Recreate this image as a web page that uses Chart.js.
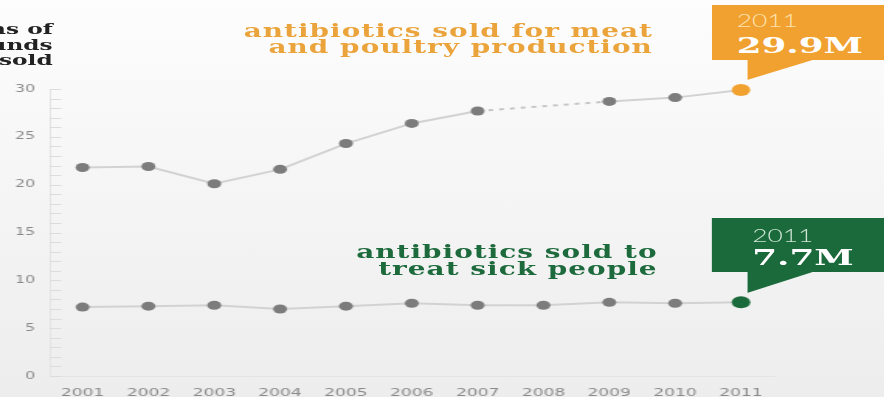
<!DOCTYPE html>
<html><head><meta charset="utf-8">
<script src="https://cdn.jsdelivr.net/npm/chart.js@4"></script>
<style>
html,body{margin:0;padding:0;}
body{width:884px;height:397px;overflow:hidden;position:relative;background:linear-gradient(to bottom,#fdfdfd 0%,#f4f4f4 55%,#ededed 100%);}
#wrap{position:absolute;left:0;top:0;width:570px;height:397px;transform:scaleX(1.5509);transform-origin:0 0;}
#cw{position:absolute;left:0;top:0;width:570px;height:397px;}
.t{position:absolute;white-space:nowrap;}
#ytitle{right:536px;top:22px;text-align:right;font:bold 15px/15.5px 'DejaVu Serif',serif;color:#222;}
#meatLbl{right:149px;top:23px;text-align:right;font:bold 18px/16px 'DejaVu Serif',serif;letter-spacing:0.65px;color:#eba43c;}
#humLbl{right:146px;top:243px;text-align:right;font:bold 18px/17px 'DejaVu Serif',serif;letter-spacing:0.65px;color:#1d6a3c;}
.box{position:absolute;left:459px;width:111px;}
.tri{position:absolute;left:481.7px;width:42.3px;clip-path:polygon(0 0,100% 0,0 100%);}
.yr{font:300 17px/17px Lato,sans-serif;}
.big{font:bold 23px/23px 'DejaVu Serif',serif;color:#fff;}
</style></head>
<body>
<div id="wrap">
  <div id="cw"><canvas id="c"></canvas></div>
  <div class="t" id="ytitle">Millions of<br>pounds<br>sold</div>
  <div class="t" id="meatLbl">antibiotics sold for meat<br>and poultry production</div>
  <div class="t" id="humLbl">antibiotics sold to<br>treat sick people</div>
  <div class="box" style="top:5px;height:55px;background:#f1a12f"></div>
  <div class="tri" style="top:60px;height:20px;background:#f1a12f"></div>
  <div class="t yr" style="left:475px;top:12px;color:#fde2b0">2011</div>
  <div class="t big" style="left:475px;top:32.6px">29.9M</div>
  <div class="box" style="top:218px;height:54px;background:#1b6a3b"></div>
  <div class="tri" style="top:272px;height:21px;background:#1b6a3b"></div>
  <div class="t yr" style="left:485px;top:227px;color:#cfe5d6">2011</div>
  <div class="t big" style="left:485px;top:244.6px">7.7M</div>
</div>
<script>
const years = ['2001','2002','2003','2004','2005','2006','2007','2008','2009','2010','2011'];
const meatPoultry = [21.8, 21.9, 20.1, 21.6, 24.3, 26.4, 27.7, null, 28.7, 29.1, 29.9];
const sickPeople = [7.2, 7.3, 7.4, 7.0, 7.3, 7.6, 7.4, 7.4, 7.7, 7.6, 7.7];
const yTickLabels = [0, 5, 10, 15, 20, 25, 30];

const GREY = '#7c7c7c', LINE = '#d2d2d2', ORANGE = '#f1a12f', GREEN = '#1b6a3b';
const last = years.length - 1;

const minorTicks = {
  id: 'minorTicks',
  afterDraw(chart) {
    const y = chart.scales.y, ctx = chart.ctx, left = chart.chartArea.left;
    ctx.save();
    ctx.strokeStyle = '#dcdcdc';
    ctx.lineWidth = 1;
    for (let v = y.min; v <= y.max; v++) {
      const py = Math.round(y.getPixelForValue(v)) + 0.5;
      ctx.beginPath();
      ctx.moveTo(left, py);
      ctx.lineTo(left + 7.5, py);
      ctx.stroke();
    }
    ctx.restore();
  }
};

function ds(data, endColor, endR) {
  return {
    data,
    borderColor: LINE,
    borderWidth: 2,
    spanGaps: true,
    tension: 0,
    segment: {
      borderDash: c => (c.p0.skip || c.p1.skip) ? [3, 4] : undefined,
      borderColor: c => (c.p0.skip || c.p1.skip) ? '#c4c4c4' : undefined
    },
    pointRadius: c => c.dataIndex === last ? endR : 4.5,
    pointHoverRadius: c => c.dataIndex === last ? endR : 4.5,
    pointBackgroundColor: c => c.dataIndex === last ? endColor : GREY,
    pointBorderWidth: 0,
    clip: false
  };
}

new Chart(document.getElementById('c'), {
  type: 'line',
  data: {
    labels: years,
    datasets: [ds(meatPoultry, ORANGE, 6), ds(sickPeople, GREEN, 6)]
  },
  options: {
    responsive: true,
    maintainAspectRatio: false,
    animation: false,
    events: [],
    layout: { padding: { top: 89, right: 71, left: 0, bottom: 0 } },
    plugins: { legend: { display: false }, tooltip: { enabled: false } },
    scales: {
      x: {
        offset: true,
        grid: { display: false, drawTicks: false },
        border: { display: true, color: '#e4e4e4', width: 1 },
        ticks: { color: '#8a8a8a', font: { family: "'DejaVu Sans', sans-serif", size: 11 }, padding: 11, maxRotation: 0, autoSkip: false },
        afterFit: s => { s.height = 21; }
      },
      y: {
        min: 0, max: 30,
        afterBuildTicks: s => { s.ticks = yTickLabels.map(v => ({ value: v })); },
        grid: { display: false, drawTicks: false },
        border: { display: true, color: '#e4e4e4', width: 1 },
        ticks: { color: '#8a8a8a', font: { family: "'DejaVu Sans', sans-serif", size: 10 }, padding: 9.5 },
        afterFit: s => { s.width = 32; }
      }
    }
  },
  plugins: [minorTicks]
});
</script>
</body></html>
